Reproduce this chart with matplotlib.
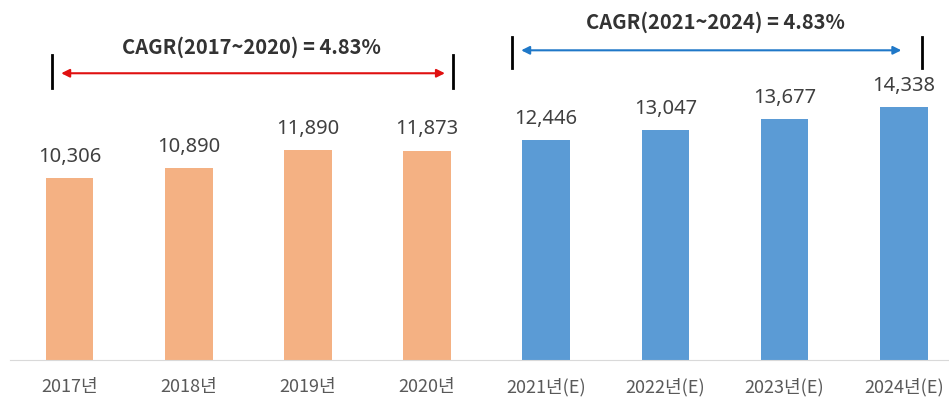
import matplotlib.pyplot as plt

plt.rcParams['font.family'] = ['Noto Sans CJK KR', 'DejaVu Sans']

# 데이터
years = ["2017년", "2018년", "2019년", "2020년",
         "2021년(E)", "2022년(E)", "2023년(E)", "2024년(E)"]
values = [10306, 10890, 11890, 11873, 12446, 13047, 13677, 14338]
colors = ["#F4B183"] * 4 + ["#5B9BD5"] * 4
cagr_1 = "CAGR(2017~2020) = 4.83%"
cagr_2 = "CAGR(2021~2024) = 4.83%"

latin = ['Noto Sans', 'Noto Sans CJK KR']

fig = plt.figure(figsize=(9.49, 4.01), dpi=100)
ax = fig.add_axes([0.0105, 0.102, 0.9895, 0.898])

x = range(len(years))
bars = ax.bar(x, values, width=0.4, color=colors)

for b, v in zip(bars, values):
    ax.annotate(f"{v:,}", (b.get_x() + b.get_width() / 2, v),
                xytext=(0, 8), textcoords="offset points",
                ha="center", va="bottom", fontsize=14.5, color="#404040",
                family=latin)

ax.set_xlim(-0.5, 7.38)
ax.set_ylim(0, 20400)
ax.set_xticks(list(x))
ax.set_xticklabels(years, fontsize=13, color="#595959")
ax.tick_params(axis="x", length=0, pad=13)
ax.set_yticks([])
for s in ["top", "right", "left"]:
    ax.spines[s].set_visible(False)
ax.spines["bottom"].set_color("#D9D9D9")

# CAGR 표시 (2017~2020)
ax.plot([-0.15, -0.15], [15400, 17270], color="black", lw=2)
ax.plot([3.22, 3.22], [15400, 17270], color="black", lw=2)
ax.annotate("", xy=(-0.07, 16250), xytext=(3.15, 16250),
            arrowprops=dict(arrowstyle="<|-|>", color="#E01010", lw=1.5,
                            mutation_scale=12, shrinkA=0, shrinkB=0))
ax.text(1.53, 17750, cagr_1, ha="center", va="center",
        fontsize=14.5, fontweight="bold", color="#333333")

# CAGR 표시 (2021~2024)
ax.plot([3.71, 3.71], [16530, 18290], color="black", lw=2)
ax.plot([7.15, 7.15], [16530, 18290], color="black", lw=2)
ax.annotate("", xy=(3.79, 17550), xytext=(6.98, 17550),
            arrowprops=dict(arrowstyle="<|-|>", color="#1F78C8", lw=1.5,
                            mutation_scale=12, shrinkA=0, shrinkB=0))
ax.text(5.42, 19150, cagr_2, ha="center", va="center",
        fontsize=14.5, fontweight="bold", color="#333333")

fig.savefig("out.png", dpi=100)
